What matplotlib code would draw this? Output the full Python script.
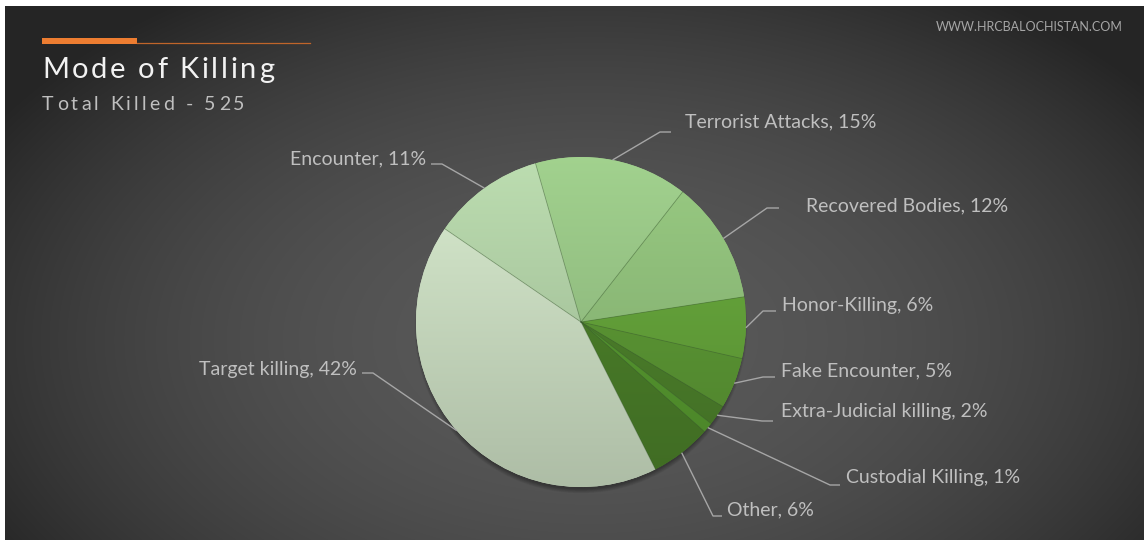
import numpy as np
import matplotlib
matplotlib.use("Agg")
import matplotlib.pyplot as plt
from matplotlib.colors import to_rgb
from matplotlib.patches import Circle, Rectangle
from matplotlib.font_manager import FontProperties

# ---------------- data ----------------
categories = ["Terrorist Attacks", "Recovered Bodies", "Honor-Killing", "Fake Encounter",
              "Extra-Judicial killing", "Custodial Killing", "Other", "Target killing", "Encounter"]
percent = [15, 12, 6, 5, 2, 1, 6, 42, 11]
total_killed = 525
title = "Mode of Killing"
subtitle = f"Total Killed - {total_killed}"
website = "WWW.HRCBALOCHISTAN.COM"

# ---------------- style ----------------
slice_colors = ["#97c485", "#8fbe7a", "#64a23a", "#5b9634", "#4c7f2b",
                "#56982f", "#4a7d29", "#cadcc1", "#b0cfa5"]
# label layout in pixels: (elbow_x, elbow_y, end_x, text_x, text_y, ha)
label_layout = [
    (660, 132, 671, 685, 122, "left"),
    (767, 208, 779, 806, 206, "left"),
    (763, 311, 776, 782, 305, "left"),
    (763, 377, 775, 781, 371, "left"),
    (762, 421, 773, 781, 412, "left"),
    (830, 485, 840, 846, 478, "left"),
    (713, 516, 722, 727, 510, "left"),
    (373, 373, 362, 357, 370, "right"),
    (442, 164, 431, 426, 159, "right"),
]
FONT = "Lato"
LABEL_COLOR = "#bfbfbf"
LINE_COLOR = "#a6a6a6"

W, H = 1144, 540
CX, CY, R = 581, 322, 165

fig = plt.figure(figsize=(W / 100, H / 100), dpi=100)
fig.patch.set_facecolor("white")
ax = fig.add_axes([0, 0, 1, 1])
ax.set_axis_off()

# background radial gradient
X0, Y0 = 5, 6
xs = np.arange(X0, W) + 0.5
ys = np.arange(Y0, H) + 0.5
XX, YY = np.meshgrid(xs, ys)
d = np.sqrt(((XX - 590) / 700) ** 2 + ((YY - 340) / 420) ** 2)
d = np.clip(d, 0, 1) ** 2
c_in, c_out = 0x59 / 255, 0x25 / 255
g = c_in + (c_out - c_in) * d
bg = np.dstack([g, g, g])
ax.imshow(bg, extent=(X0, W, H, Y0), zorder=0, interpolation="bilinear")

# soft pie shadow (mostly below the pie)
for i in range(7):
    ax.add_patch(Circle((CX, CY + 5), R - 3 + 0.7 * i, facecolor="black", alpha=0.05,
                        edgecolor="none", zorder=1))

# pie (y axis inverted -> startangle negative, counterclock in data = clockwise on screen)
wedges, _ = ax.pie(percent, colors=slice_colors, startangle=-106, counterclock=True,
                   center=(CX, CY), radius=R, wedgeprops=dict(linewidth=0, zorder=2))
for w_, col in zip(wedges, slice_colors):
    base = np.array(to_rgb(col))
    top = np.clip(base * 1.07, 0, 1)
    bot = np.clip(base * 0.86, 0, 1)
    t = np.linspace(0, 1, 256)[:, None]
    grad = top[None, :] * (1 - t) + bot[None, :] * t
    img = np.repeat(grad[:, None, :], 2, axis=1)
    im = ax.imshow(img, extent=(CX - R, CX + R, CY + R, CY - R), zorder=3,
                   interpolation="bilinear", aspect="auto")
    im.set_clip_path(w_)

# radial separators between slices
for w_ in wedges:
    a = np.deg2rad(w_.theta1)
    ax.plot([CX, CX + R * np.cos(a)], [CY, CY + R * np.sin(a)],
            color=(0.22, 0.35, 0.18, 0.45), lw=0.6, zorder=4)

# leader lines and labels
for w_, name, p, lay in zip(wedges, categories, percent, label_layout):
    mid = np.deg2rad((w_.theta1 + w_.theta2) / 2)
    sx, sy = CX + R * np.cos(mid), CY + R * np.sin(mid)
    ex, ey, endx, tx, ty, ha = lay
    ax.plot([sx, ex, endx], [sy, ey, ey], color=LINE_COLOR, lw=1.0, zorder=5,
            solid_capstyle="butt")
    ax.text(tx, ty, f"{name}, {p}%", color=LABEL_COLOR, fontsize=14, family=FONT,
            ha=ha, va="center", zorder=6)

# header bar
ax.add_patch(Rectangle((42, 37.7), 95, 6.3, facecolor="#ed7d31", edgecolor="none", zorder=5))
ax.plot([137, 310], [42.7, 42.7], color="#c0652a", lw=0.9, zorder=5)

renderer = fig.canvas.get_renderer()


def width_px(s, fp):
    w1, _, _ = renderer.get_text_width_height_descent(s + "x", fp, ismath=False)
    w2, _, _ = renderer.get_text_width_height_descent("x", fp, ismath=False)
    return w1 - w2


def spaced_text(x, y, s, spacing, size, color):
    fp = FontProperties(family=FONT, size=size)
    for i, ch in enumerate(s):
        if ch == " ":
            continue
        off = width_px(s[:i], fp) if i else 0
        ax.text(x + off + i * spacing, y, ch, fontproperties=fp, color=color,
                va="baseline", ha="left", zorder=6)


spaced_text(42, 78, title, 2.6, 21, "#f2f2f2")
spaced_text(42, 110, subtitle, 3.2, 14, "#bfbfbf")

ax.text(1123, 27, website, color="#a6a6a6", fontsize=9, family=FONT, ha="right",
        va="center", zorder=6)

ax.set_xlim(0, W)
ax.set_ylim(H, 0)
fig.savefig("out.png", dpi=100, facecolor="white")
